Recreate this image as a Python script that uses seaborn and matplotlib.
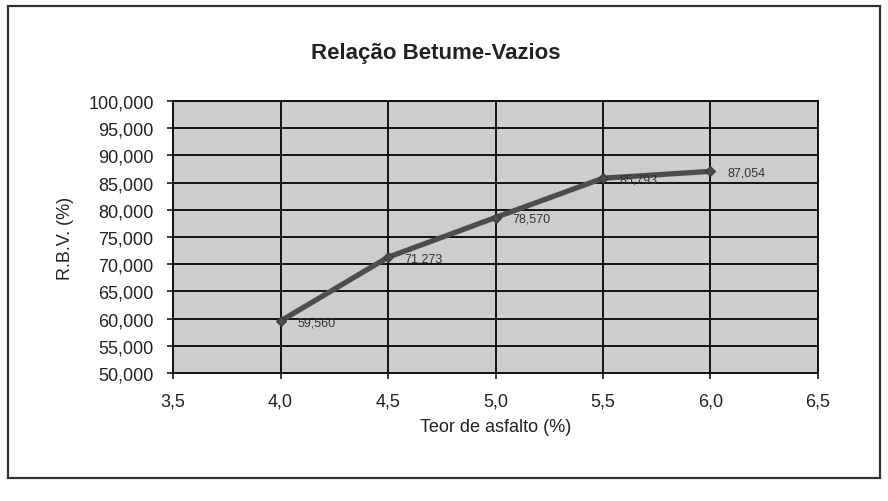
import matplotlib
matplotlib.use("Agg")
import matplotlib.pyplot as plt
import matplotlib.ticker as mticker
from matplotlib.patches import Rectangle
import seaborn as sns
import pandas as pd

teor_asfalto = [4.0, 4.5, 5.0, 5.5, 6.0]
rbv = [59.560, 71.273, 78.570, 85.793, 87.054]
rbv_labels = ["59,560", "71,273", "78,570", "85,793", "87,054"]

df = pd.DataFrame({"teor": teor_asfalto, "rbv": rbv})

sns.set_theme(style="white")
plt.rcParams["font.family"] = ["Liberation Sans", "DejaVu Sans"]

fig = plt.figure(figsize=(8.88, 5.02), dpi=100)
ax = fig.add_axes([0.195, 0.255, 0.726, 0.542])

# outer chart frame
fig.patches.append(Rectangle((0.009, 0.046), 0.982, 0.940, transform=fig.transFigure,
                             fill=False, edgecolor="#333333", linewidth=1.6))

ax.set_facecolor("#cdcdcd")
sns.lineplot(data=df, x="teor", y="rbv", ax=ax, color="#4d4d4d", linewidth=3.8,
             marker="D", markersize=5, markeredgecolor="#3a3a3a", zorder=3)

for x, y, lab in zip(teor_asfalto, rbv, rbv_labels):
    ax.annotate(lab, (x, y), xytext=(12, -1), textcoords="offset points",
                fontsize=9, color="#333333", va="center", ha="left", zorder=4)

ax.set_xlim(3.5, 6.5)
ax.set_ylim(50, 100)
ax.xaxis.set_major_locator(mticker.MultipleLocator(0.5))
ax.yaxis.set_major_locator(mticker.MultipleLocator(5))
ax.xaxis.set_major_formatter(mticker.FuncFormatter(lambda v, p: f"{v:.1f}".replace(".", ",")))
ax.yaxis.set_major_formatter(mticker.FuncFormatter(lambda v, p: f"{v:.3f}".replace(".", ",")))

ax.grid(True, color="#111111", linewidth=1.4)
ax.set_axisbelow(True)
for s in ax.spines.values():
    s.set_color("#111111")
    s.set_linewidth(1.4)

ax.tick_params(axis="both", labelsize=13, colors="#222222", length=4, direction="out",
               left=True, bottom=True)
ax.tick_params(axis="y", pad=10)
ax.tick_params(axis="x", pad=10)
ax.set_xlabel("Teor de asfalto (%)", fontsize=13, color="#222222", labelpad=6)
ax.set_ylabel("R.B.V. (%)", fontsize=13, color="#222222", labelpad=10)
fig.text(0.491, 0.894, "Relação Betume-Vazios", ha="center", va="center",
         fontsize=16, fontweight="bold", color="#222222")

fig.savefig("out.png", dpi=100)
